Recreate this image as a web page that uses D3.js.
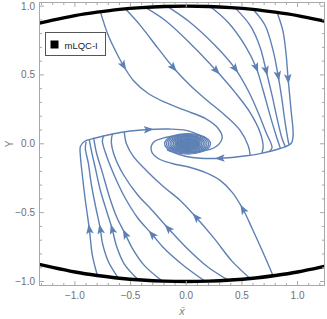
<!DOCTYPE html>
<html>
<head>
<meta charset="utf-8">
<script src="https://cdn.jsdelivr.net/npm/d3@7"></script>
<style>
  html, body { margin: 0; padding: 0; background: #fff; }
  svg { display: block; font-family: "Liberation Sans", Arial, sans-serif; }
  .stream { fill: none; stroke: #5e81b5; stroke-width: 1.4; stroke-linejoin: round; stroke-linecap: round; }
  .arrow { fill: #5e81b5; }
  .frame { fill: none; stroke: #a8a8a8; stroke-width: 1; }
  .tick { stroke: #a8a8a8; stroke-width: 1; }
  .ticklabel { fill: #707070; font-size: 10px; }
</style>
</head>
<body>
<div id="chart"></div>
<script>
// boundary of the allowed region (upper and lower arcs)
const boundaryX = [-1.32, -1.2, -1.0, -0.8, -0.6, -0.4, -0.2, 0, 0.2, 0.4, 0.6, 0.8, 1.0, 1.2, 1.26];
const boundaryTop = [0.876, 0.898, 0.931, 0.956, 0.976, 0.989, 0.997, 1.0, 0.997, 0.989, 0.976, 0.956, 0.931, 0.898, 0.887];
const boundaryBottom = [-0.876, -0.898, -0.931, -0.956, -0.976, -0.989, -0.997, -1.0, -0.997, -0.989, -0.976, -0.956, -0.931, -0.898, -0.887];

// stream lines coming down from the upper arc
const descending = [
  [[-0.771,0.958],[-0.700,0.786],[-0.628,0.663],[-0.565,0.569],[-0.475,0.460],[-0.341,0.365],[-0.188,0.300],[-0.009,0.242],[0.170,0.184],[0.287,0.111],[0.323,0.046],[0.269,-0.020],[0.126,-0.056],[-0.036,-0.056],[-0.143,-0.027]],
  [[-0.547,0.980],[-0.413,0.860],[-0.260,0.700],[-0.117,0.554],[0.036,0.423],[0.188,0.315],[0.350,0.206],[0.484,0.097],[0.556,-0.012],[0.574,-0.078]],
  [[-0.368,0.990],[-0.188,0.895],[0.036,0.729],[0.269,0.532],[0.439,0.373],[0.574,0.227],[0.664,0.082],[0.691,-0.020],[0.682,-0.063]],
  [[-0.170,0.998],[0.036,0.881],[0.260,0.713],[0.439,0.546],[0.556,0.387],[0.646,0.227],[0.717,0.082],[0.771,-0.027],[0.753,-0.050]],
  [[0.215,0.997],[0.377,0.881],[0.529,0.713],[0.628,0.554],[0.691,0.387],[0.753,0.206],[0.807,0.060],[0.843,-0.027]],
  [[0.439,0.987],[0.574,0.859],[0.664,0.700],[0.717,0.532],[0.771,0.351],[0.816,0.184],[0.861,0.038],[0.888,-0.018]],
  [[0.601,0.975],[0.709,0.859],[0.780,0.678],[0.825,0.496],[0.861,0.315],[0.888,0.155],[0.915,0.024],[0.924,-0.005]],
  [[0.816,0.954],[0.868,0.822],[0.897,0.650],[0.915,0.474],[0.942,0.242],[0.960,0.060],[0.942,0.002],[0.843,-0.034],[0.664,-0.071],[0.484,-0.092],[0.305,-0.105],[0.126,-0.105],[0,-0.092],[-0.170,-0.045]]
];
const descendingArrows = [[3], [3], [3], [3], [3], [3], [3], [3, 10]];

// stream lines going up from the lower arc
const ascending = [
  [[-0.798,-0.956],[-0.843,-0.811],[-0.870,-0.622],[-0.906,-0.412],[-0.933,-0.230],[-0.951,-0.085],[-0.951,-0.020],[-0.915,0.017],[-0.816,0.042],[-0.664,0.071],[-0.502,0.093],[-0.341,0.104],[-0.161,0.107],[0,0.097],[0.170,0.045]],
  [[-0.610,-0.975],[-0.700,-0.855],[-0.753,-0.720],[-0.771,-0.622],[-0.816,-0.448],[-0.852,-0.296],[-0.879,-0.143],[-0.906,-0.034],[-0.900,0.010]],
  [[-0.430,-0.988],[-0.556,-0.874],[-0.628,-0.738],[-0.664,-0.622],[-0.717,-0.484],[-0.771,-0.339],[-0.816,-0.179],[-0.852,-0.049],[-0.870,0.027]],
  [[-0.215,-0.997],[-0.377,-0.883],[-0.484,-0.759],[-0.547,-0.657],[-0.628,-0.526],[-0.691,-0.383],[-0.753,-0.209],[-0.807,-0.063],[-0.830,0.035]],
  [[0.170,-0.998],[-0.036,-0.876],[-0.206,-0.753],[-0.305,-0.659],[-0.439,-0.535],[-0.556,-0.383],[-0.646,-0.230],[-0.717,-0.085],[-0.753,0.017],[-0.744,0.057]],
  [[0.377,-0.990],[0.188,-0.891],[0,-0.753],[-0.161,-0.615],[-0.305,-0.484],[-0.439,-0.368],[-0.565,-0.223],[-0.646,-0.085],[-0.673,0.017],[-0.664,0.068]],
  [[0.574,-0.978],[0.413,-0.854],[0.251,-0.687],[0.090,-0.535],[-0.054,-0.412],[-0.206,-0.310],[-0.350,-0.201],[-0.475,-0.092],[-0.538,0.002],[-0.556,0.080]],
  [[0.780,-0.958],[0.682,-0.775],[0.592,-0.615],[0.511,-0.477],[0.413,-0.353],[0.305,-0.266],[0.170,-0.208],[0.036,-0.172],[-0.126,-0.143],[-0.251,-0.107],[-0.314,-0.049],[-0.296,0.009],[-0.188,0.046],[-0.036,0.060],[0.108,0.046]]
];
const ascendingArrows = [[2, 11], [3], [3], [3], [3], [3], [3], [3]];

// focus at the origin: rings of the tight spiral (half-widths in x and y)
const focusCenter = [0.012, 0];
const focusRings = [[0.206,0.074],[0.190,0.068],[0.174,0.062],[0.158,0.056],[0.143,0.050],[0.128,0.045],[0.114,0.040]];
const focusCore = [0.112, 0.039];

const xTicks = [-1.0, -0.5, 0.0, 0.5, 1.0];
const yTicks = [-1.0, -0.5, 0.0, 0.5, 1.0];
const legendLabel = "mLQC-I";

const W = 327, H = 319;
const pLeft = 39.5, pRight = 324.5, pTop = 2.5, pBottom = 285.5;

const svg = d3.select("#chart").append("svg")
    .attr("width", W)
    .attr("height", H);

const x = d3.scaleLinear().domain([-1.318, 1.242]).range([pLeft, pRight]);
const y = d3.scaleLinear().domain([-1.029, 1.026]).range([pBottom, pTop]);

svg.append("clipPath").attr("id", "plot")
  .append("rect")
    .attr("x", pLeft).attr("y", pTop)
    .attr("width", pRight - pLeft).attr("height", pBottom - pTop);

const plot = svg.append("g").attr("clip-path", "url(#plot)");

const line = d3.line()
    .x(d => x(d[0]))
    .y(d => y(d[1]))
    .curve(d3.curveCatmullRom.alpha(0.5));

const arrowShape = "M5.5,0L-4.5,-3.8L-2.4,0L-4.5,3.8Z";

function drawStreams(lines, arrows) {
  plot.selectAll(null)
    .data(lines)
    .enter().append("path")
      .attr("class", "stream")
      .attr("d", line);

  lines.forEach((pts, k) => {
    arrows[k].forEach(i => {
      const a = pts[i - 1], b = pts[i + 1];
      const ang = Math.atan2(y(b[1]) - y(a[1]), x(b[0]) - x(a[0])) * 180 / Math.PI;
      plot.append("path")
        .attr("class", "arrow")
        .attr("d", arrowShape)
        .attr("transform", "translate(" + x(pts[i][0]) + "," + y(pts[i][1]) + ") rotate(" + ang + ")");
    });
  });
}

drawStreams(descending, descendingArrows);
drawStreams(ascending, ascendingArrows);

// spiral focus
plot.append("ellipse")
    .attr("cx", x(focusCenter[0]))
    .attr("cy", y(focusCenter[1]))
    .attr("rx", x(focusCore[0]) - x(0))
    .attr("ry", y(0) - y(focusCore[1]))
    .attr("fill", "#5e81b5");

plot.selectAll(null)
  .data(focusRings)
  .enter().append("ellipse")
    .attr("cx", x(focusCenter[0]))
    .attr("cy", y(focusCenter[1]))
    .attr("rx", d => x(d[0]) - x(0))
    .attr("ry", d => y(0) - y(d[1]))
    .attr("fill", "none")
    .attr("stroke", "#5e81b5")
    .attr("stroke-width", 1.3);

// boundary arcs
const arc = d3.line()
    .x((d, i) => x(boundaryX[i]))
    .y(d => y(d))
    .curve(d3.curveNatural);

[boundaryTop, boundaryBottom].forEach(b => {
  plot.append("path")
      .attr("d", arc(b))
      .attr("fill", "none")
      .attr("stroke", "#000")
      .attr("stroke-width", 3.4);
});

// frame with inward ticks on all sides
svg.append("rect")
    .attr("class", "frame")
    .attr("x", pLeft).attr("y", pTop)
    .attr("width", pRight - pLeft).attr("height", pBottom - pTop);

const xMinor = x.ticks(26);
const yMinor = y.ticks(21);
const isMajor = (v, list) => list.some(t => Math.abs(t - v) < 1e-6);

const ticks = svg.append("g");
xMinor.forEach(v => {
  const len = isMajor(v, xTicks) ? 4.5 : 2.5;
  ticks.append("line").attr("class", "tick")
      .attr("x1", x(v)).attr("x2", x(v)).attr("y1", pBottom).attr("y2", pBottom - len);
  ticks.append("line").attr("class", "tick")
      .attr("x1", x(v)).attr("x2", x(v)).attr("y1", pTop).attr("y2", pTop + len);
});
yMinor.forEach(v => {
  const len = isMajor(v, yTicks) ? 4.5 : 2.5;
  ticks.append("line").attr("class", "tick")
      .attr("x1", pLeft).attr("x2", pLeft + len).attr("y1", y(v)).attr("y2", y(v));
  ticks.append("line").attr("class", "tick")
      .attr("x1", pRight).attr("x2", pRight - len).attr("y1", y(v)).attr("y2", y(v));
});

const fmt = d3.format(".1f");
svg.selectAll(null)
  .data(xTicks)
  .enter().append("text")
    .attr("class", "ticklabel")
    .attr("x", d => x(d))
    .attr("y", 299)
    .attr("text-anchor", "middle")
    .text(fmt);

svg.selectAll(null)
  .data(yTicks)
  .enter().append("text")
    .attr("class", "ticklabel")
    .attr("x", 35)
    .attr("y", d => y(d))
    .attr("dy", "0.35em")
    .attr("text-anchor", "end")
    .text(fmt);

// axis labels
svg.append("text")
    .attr("x", (pLeft + pRight) / 2)
    .attr("y", 315)
    .attr("text-anchor", "middle")
    .style("font-size", "11px")
    .style("font-style", "italic")
    .attr("fill", "#808080")
    .text("x\u0304");

svg.append("text")
    .attr("transform", "translate(9," + ((pTop + pBottom) / 2) + ") rotate(-90)")
    .attr("text-anchor", "middle")
    .attr("dy", "0.35em")
    .style("font-size", "10px")
    .attr("fill", "#808080")
    .text("Y");

// legend
const lg = svg.append("g");
lg.append("rect")
    .attr("x", 45.5).attr("y", 32.5)
    .attr("width", 60).attr("height", 23)
    .attr("fill", "#fff")
    .attr("stroke", "#555")
    .attr("stroke-width", 1);
lg.append("rect")
    .attr("x", 50.5).attr("y", 40.5)
    .attr("width", 8).attr("height", 8)
    .attr("fill", "#000");
lg.append("text")
    .attr("x", 64.5).attr("y", 48.5)
    .style("font-size", "9.5px")
    .attr("fill", "#222")
    .text(legendLabel);
</script>
</body>
</html>
